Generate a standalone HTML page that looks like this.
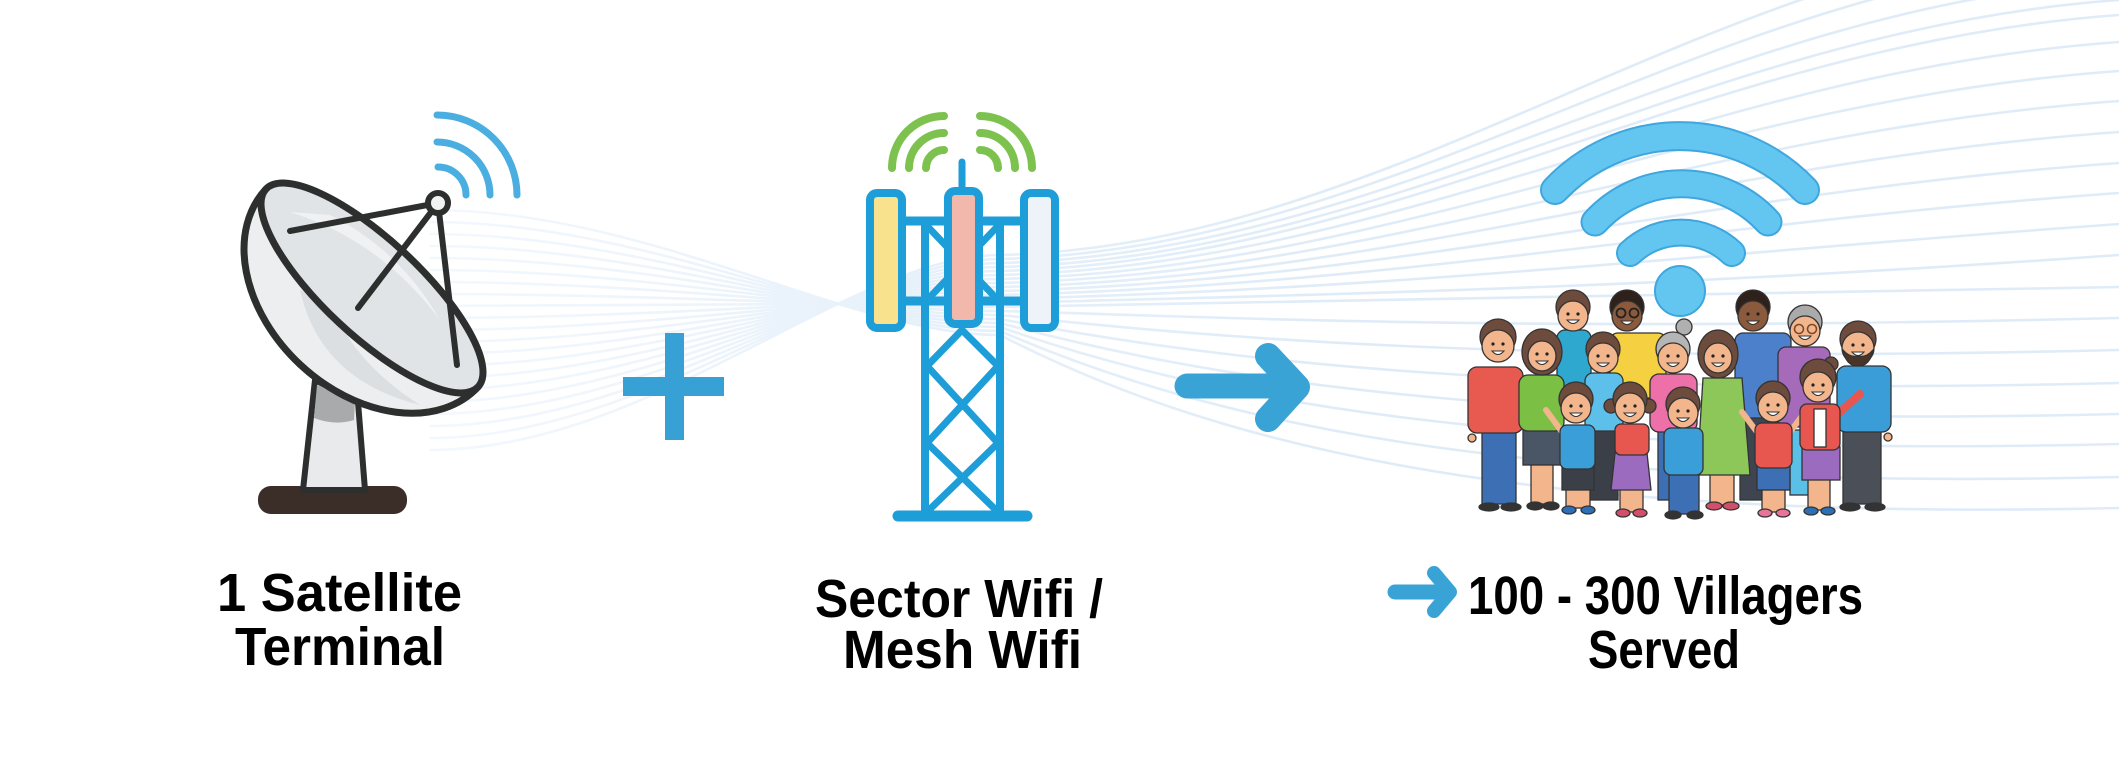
<!DOCTYPE html>
<html><head><meta charset="utf-8"><style>
html,body{margin:0;padding:0;background:#fff;}
svg{display:block;}
text{font-family:"Liberation Sans",Arial,sans-serif;font-weight:bold;fill:#000;}
</style></head><body>
<svg width="2119" height="779" viewBox="0 0 2119 779" xmlns="http://www.w3.org/2000/svg">
<defs>
<linearGradient id="lg" gradientUnits="userSpaceOnUse" x1="430" y1="0" x2="1300" y2="0">
<stop offset="0" stop-color="#f3f8fd"/>
<stop offset="0.6" stop-color="#e6f0fa"/>
<stop offset="1" stop-color="#dfecf8"/>
</linearGradient>
</defs>
<rect width="2119" height="779" fill="#fff"/>
<!-- background flowing lines -->
<g fill="none" stroke="url(#lg)" stroke-width="2.6">
<path d="M430,450 C650,450 850,255 1000,255 C1400,245 1700,-40 2119,-70"/>
<path d="M430,438 C650,438 850,259 1000,259 C1400,249 1700,-15 2119,-45"/>
<path d="M430,426 C650,426 850,263 1000,263 C1400,253 1700,10 2119,-20"/>
<path d="M430,414 C650,414 850,267 1000,267 C1400,257 1700,30 2119,0"/>
<path d="M430,402 C650,402 850,271 1000,271 C1400,261 1700,45 2119,15"/>
<path d="M430,390 C650,390 850,275 1000,275 C1400,265 1700,72 2119,42"/>
<path d="M430,378 C650,378 850,279 1000,279 C1400,269 1700,101 2119,71"/>
<path d="M430,366 C650,366 850,283 1000,283 C1400,273 1700,131 2119,101"/>
<path d="M430,354 C650,354 850,287 1000,287 C1400,277 1700,162 2119,132"/>
<path d="M430,342 C650,342 850,291 1000,291 C1400,281 1700,193 2119,163"/>
<path d="M430,330 C650,330 850,295 1000,295 C1400,285 1700,223 2119,193"/>
<path d="M430,318 C650,318 850,299 1000,299 C1400,289 1700,254 2119,224"/>
<path d="M430,306 C650,306 850,303 1000,303 C1400,293 1700,285 2119,255"/>
<path d="M430,294 C650,294 850,307 1000,307 C1400,297 1700,297 2119,287"/>
<path d="M430,282 C650,282 850,311 1000,311 C1200,316 1500,333 2119,318"/>
<path d="M430,270 C650,270 850,315 1000,315 C1200,336 1500,365 2119,350"/>
<path d="M430,258 C650,258 850,319 1000,319 C1200,357 1500,398 2119,383"/>
<path d="M430,246 C650,246 850,323 1000,323 C1200,377 1500,429 2119,414"/>
<path d="M430,234 C650,234 850,327 1000,327 C1200,397 1500,459 2119,444"/>
<path d="M430,222 C650,222 850,331 1000,331 C1200,418 1500,492 2119,477"/>
<path d="M430,210 C650,210 850,335 1000,335 C1200,438 1500,523 2119,508"/>
</g>

<!-- Satellite dish -->
<g stroke="#2d2f2f" stroke-linecap="round" stroke-linejoin="round">
  <rect x="258" y="486" width="149" height="28" rx="13" fill="#3b2e29" stroke="none"/>
  <path d="M315,380 L303,490 L365,490 L358,402 Z" fill="#e9eaeb" stroke-width="6"/>
  <path d="M317,385 L355,400 L354,420 Q335,426 314,418 Z" fill="#a9aaac" stroke="none"/>
  <path d="M266,189 A145 105 43 0 0 478 387" fill="#eceef0" stroke-width="7"/>
  <path d="M300,290 Q320,380 420,405 Q350,360 330,300 Z" fill="#dcdfe2" stroke="none"/>
  <ellipse cx="372" cy="288" rx="145" ry="48" transform="rotate(43 372 288)" fill="#e1e4e7" stroke-width="7"/>
  <path d="M290,212 Q380,240 440,320 Q400,250 330,215 Z" fill="#f0f1f2" stroke="none"/>
  <line x1="438" y1="203" x2="290" y2="231" stroke-width="6"/>
  <line x1="438" y1="203" x2="358" y2="308" stroke-width="6"/>
  <line x1="438" y1="203" x2="457" y2="365" stroke-width="6"/>
  <circle cx="438" cy="203" r="10" fill="#f2f2f2" stroke-width="6"/>
</g>
<g fill="none" stroke="#4aaee0" stroke-width="7" stroke-linecap="round">
  <path d="M437,115 A80 80 0 0 1 517,195"/>
  <path d="M437,142 A53 53 0 0 1 490,195"/>
  <path d="M438,167 A28 28 0 0 1 466,195"/>
</g>

<!-- Plus -->
<rect x="665" y="333" width="19" height="107" fill="#37a1d6"/>
<rect x="623" y="377" width="101" height="19" fill="#37a1d6"/>

<!-- Tower -->
<g stroke="#1e9ed8" stroke-linecap="round" fill="none">
  <line x1="962" y1="162" x2="962" y2="192" stroke-width="7"/>
  <line x1="929" y1="228" x2="996" y2="298" stroke-width="7"/>
  <line x1="996" y1="228" x2="929" y2="298" stroke-width="7"/>
  <line x1="925" y1="221" x2="925" y2="514" stroke-width="8"/>
  <line x1="1000" y1="221" x2="1000" y2="514" stroke-width="8"/>
  <line x1="906" y1="221" x2="1020" y2="221" stroke-width="9"/>
  <line x1="906" y1="301" x2="1020" y2="301" stroke-width="9"/>
  <line x1="962" y1="330" x2="927" y2="366" stroke-width="7"/>
  <line x1="962" y1="330" x2="998" y2="366" stroke-width="7"/>
  <line x1="927" y1="366" x2="998" y2="443" stroke-width="7"/>
  <line x1="998" y1="366" x2="927" y2="443" stroke-width="7"/>
  <line x1="927" y1="443" x2="998" y2="512" stroke-width="7"/>
  <line x1="998" y1="443" x2="927" y2="512" stroke-width="7"/>
  <line x1="898" y1="516" x2="1027" y2="516" stroke-width="11"/>
  <rect x="870" y="193" width="32" height="135" rx="7" fill="#f8e28e" stroke-width="8"/>
  <rect x="948" y="191" width="31" height="133" rx="7" fill="#f2b8ab" stroke-width="8"/>
  <rect x="1024" y="193" width="31" height="135" rx="7" fill="#eef3f9" stroke-width="8"/>
</g>
<g fill="none" stroke="#7dc24f" stroke-width="8" stroke-linecap="round">
  <path d="M944,116 A52 52 0 0 0 892,168"/>
  <path d="M944,133 A35 35 0 0 0 909,168"/>
  <path d="M944,150 A18 18 0 0 0 926,168"/>
  <path d="M980,116 A52 52 0 0 1 1032,168"/>
  <path d="M980,133 A35 35 0 0 1 1015,168"/>
  <path d="M980,150 A18 18 0 0 1 998,168"/>
</g>

<!-- Big arrow -->
<g fill="none" stroke="#39a3d6" stroke-linecap="round" stroke-linejoin="round">
  <line x1="1187" y1="386" x2="1292" y2="386" stroke-width="25"/>
  <path d="M1268,356 L1297,387 L1268,419" stroke-width="26"/>
</g>

<!-- WiFi symbol -->
<g fill="none" stroke-linecap="round">
  <path d="M1555,190 A172 172 0 0 1 1805,190" stroke="#3fa6de" stroke-width="30"/>
  <path d="M1595,222 A117 117 0 0 1 1768,222" stroke="#3fa6de" stroke-width="29"/>
  <path d="M1630,253 A74 74 0 0 1 1732,253" stroke="#3fa6de" stroke-width="28"/>
  <path d="M1555,190 A172 172 0 0 1 1805,190" stroke="#63c6f1" stroke-width="26"/>
  <path d="M1595,222 A117 117 0 0 1 1768,222" stroke="#63c6f1" stroke-width="25"/>
  <path d="M1630,253 A74 74 0 0 1 1732,253" stroke="#63c6f1" stroke-width="24"/>
</g>
<circle cx="1680" cy="291" r="25" fill="#63c6f1" stroke="#3fa6de" stroke-width="2"/>

<!-- People -->
<g stroke="#333" stroke-width="1.3">
  <!-- back row -->
  <rect x="1557" y="330" width="34" height="60" rx="8" fill="#2fa8cf"/>
  <circle cx="1573" cy="307" r="17" fill="#6d4c3d"/>
  <ellipse cx="1573" cy="316" rx="15" ry="15" fill="#f3b58c"/>

  <rect x="1610" y="333" width="56" height="65" rx="8" fill="#f5d142"/>
  <circle cx="1627" cy="307" r="17" fill="#2e211c"/>
  <ellipse cx="1627" cy="316" rx="15" ry="15" fill="#8b5a3c"/>
  <circle cx="1621" cy="313" r="4.5" fill="none" stroke="#222" stroke-width="1.8"/>
  <circle cx="1634" cy="313" r="4.5" fill="none" stroke="#222" stroke-width="1.8"/>

  <rect x="1740" y="415" width="40" height="85" fill="#3f4550"/>
  <rect x="1735" y="333" width="56" height="85" rx="8" fill="#4d80ca"/>
  <circle cx="1753" cy="307" r="17" fill="#2e211c"/>
  <ellipse cx="1753" cy="316" rx="15" ry="15" fill="#8b5a3c"/>

  <rect x="1790" y="430" width="22" height="65" fill="#5bc0e8"/>
  <rect x="1778" y="347" width="52" height="80" rx="8" fill="#a56ab9"/>
  <circle cx="1805" cy="322" r="17" fill="#aaaaaa"/>
  <ellipse cx="1805" cy="331" rx="15" ry="15" fill="#f3b58c"/>
  <circle cx="1799" cy="329" r="4.5" fill="none" stroke="#7a4a2a" stroke-width="1.6"/>
  <circle cx="1812" cy="329" r="4.5" fill="none" stroke="#7a4a2a" stroke-width="1.6"/>

  <!-- middle row -->
  <rect x="1482" y="428" width="34" height="76" fill="#3d6fb4"/>
  <ellipse cx="1489" cy="507" rx="10" ry="4" fill="#333"/>
  <ellipse cx="1511" cy="507" rx="10" ry="4" fill="#333"/>
  <rect x="1468" y="367" width="55" height="66" rx="9" fill="#e85a50"/>
  <circle cx="1472" cy="438" r="4" fill="#f3b58c"/>
  <circle cx="1498" cy="337" r="18" fill="#6d4c3d"/>
  <ellipse cx="1498" cy="346" rx="16" ry="16" fill="#f3b58c"/>

  <rect x="1531" y="462" width="22" height="42" fill="#f3b58c"/>
  <ellipse cx="1535" cy="506" rx="8" ry="4" fill="#333"/>
  <ellipse cx="1551" cy="506" rx="8" ry="4" fill="#333"/>
  <rect x="1523" y="428" width="40" height="37" fill="#4a5566"/>
  <rect x="1519" y="375" width="45" height="56" rx="9" fill="#7bbf44"/>
  <ellipse cx="1542" cy="352" rx="20" ry="23" fill="#6d4c3d"/>
  <ellipse cx="1542" cy="356" rx="14" ry="15" fill="#f3b58c"/>

  <rect x="1590" y="425" width="28" height="75" fill="#3a3f48"/>
  <rect x="1585" y="373" width="38" height="58" rx="8" fill="#5cc0ea"/>
  <circle cx="1603" cy="349" r="17" fill="#6d4c3d"/>
  <ellipse cx="1603" cy="358" rx="15" ry="15" fill="#f3b58c"/>

  <rect x="1658" y="425" width="32" height="75" fill="#3d6fb4"/>
  <rect x="1650" y="374" width="47" height="58" rx="9" fill="#ee70a8"/>
  <circle cx="1684" cy="327" r="8" fill="#b0b0b0"/>
  <circle cx="1673" cy="349" r="17" fill="#b5b5b5"/>
  <ellipse cx="1673" cy="358" rx="15" ry="15" fill="#f3b58c"/>

  <rect x="1710" y="470" width="24" height="35" fill="#f3b58c"/>
  <ellipse cx="1714" cy="506" rx="8" ry="4" fill="#d24f6c"/>
  <ellipse cx="1731" cy="506" rx="8" ry="4" fill="#d24f6c"/>
  <path d="M1703,378 L1742,378 L1750,475 L1697,475 Z" fill="#8dc659"/>
  <ellipse cx="1718" cy="354" rx="20" ry="24" fill="#6d4c3d"/>
  <ellipse cx="1718" cy="358" rx="14" ry="15" fill="#f3b58c"/>

  <rect x="1843" y="428" width="38" height="76" fill="#4a4f58"/>
  <ellipse cx="1850" cy="507" rx="10" ry="4" fill="#333"/>
  <ellipse cx="1875" cy="507" rx="10" ry="4" fill="#333"/>
  <rect x="1837" y="366" width="54" height="66" rx="9" fill="#3b9dd8"/>
  <circle cx="1888" cy="437" r="4" fill="#f3b58c"/>
  <circle cx="1858" cy="339" r="18" fill="#6d4c3d"/>
  <ellipse cx="1858" cy="348" rx="16" ry="16" fill="#f3b58c"/>
  <path d="M1843,350 Q1846,366 1858,366 Q1870,366 1873,350 Q1866,358 1858,356 Q1850,358 1843,350 Z" fill="#4a3328"/>

  <!-- children -->
  <rect x="1566" y="488" width="24" height="20" fill="#f3b58c"/>
  <ellipse cx="1569" cy="510" rx="7" ry="4" fill="#2c6fb5"/>
  <ellipse cx="1588" cy="510" rx="7" ry="4" fill="#2c6fb5"/>
  <rect x="1562" y="465" width="32" height="25" fill="#3a3f48"/>
  <line x1="1562" y1="432" x2="1546" y2="410" stroke="#f3b58c" stroke-width="6" stroke-linecap="round"/>
  <rect x="1560" y="425" width="35" height="44" rx="7" fill="#3a9fd8"/>
  <circle cx="1576" cy="399" r="17" fill="#6d4c3d"/>
  <ellipse cx="1576" cy="408" rx="15" ry="15" fill="#f3b58c"/>

  <rect x="1620" y="488" width="23" height="24" fill="#f3b58c"/>
  <ellipse cx="1623" cy="513" rx="7" ry="4" fill="#d24f6c"/>
  <ellipse cx="1640" cy="513" rx="7" ry="4" fill="#d24f6c"/>
  <path d="M1615,453 L1647,453 L1651,490 L1611,490 Z" fill="#9a6bbf"/>
  <rect x="1615" y="424" width="34" height="31" rx="6" fill="#e8574f"/>
  <circle cx="1611" cy="406" r="7" fill="#6d4c3d"/>
  <circle cx="1649" cy="406" r="7" fill="#6d4c3d"/>
  <circle cx="1630" cy="399" r="17" fill="#6d4c3d"/>
  <ellipse cx="1630" cy="408" rx="15" ry="15" fill="#f3b58c"/>

  <rect x="1669" y="472" width="30" height="42" fill="#3d6fb4"/>
  <ellipse cx="1673" cy="515" rx="8" ry="4" fill="#333"/>
  <ellipse cx="1695" cy="515" rx="8" ry="4" fill="#333"/>
  <rect x="1664" y="428" width="39" height="47" rx="7" fill="#3a9fd8"/>
  <circle cx="1683" cy="404" r="17" fill="#6d4c3d"/>
  <ellipse cx="1683" cy="413" rx="15" ry="15" fill="#f3b58c"/>

  <rect x="1762" y="488" width="23" height="24" fill="#f3b58c"/>
  <ellipse cx="1765" cy="513" rx="7" ry="4" fill="#e8749a"/>
  <ellipse cx="1783" cy="513" rx="7" ry="4" fill="#e8749a"/>
  <rect x="1757" y="465" width="33" height="25" fill="#3d6fb4"/>
  <line x1="1757" y1="432" x2="1742" y2="412" stroke="#f3b58c" stroke-width="6" stroke-linecap="round"/>
  <line x1="1790" y1="432" x2="1805" y2="412" stroke="#f3b58c" stroke-width="6" stroke-linecap="round"/>
  <rect x="1755" y="423" width="37" height="45" rx="7" fill="#e8574f"/>
  <circle cx="1773" cy="398" r="17" fill="#6d4c3d"/>
  <ellipse cx="1773" cy="407" rx="15" ry="15" fill="#f3b58c"/>

  <rect x="1808" y="478" width="22" height="32" fill="#f3b58c"/>
  <ellipse cx="1811" cy="511" rx="7" ry="4" fill="#2c6fb5"/>
  <ellipse cx="1828" cy="511" rx="7" ry="4" fill="#2c6fb5"/>
  <rect x="1802" y="447" width="38" height="33" fill="#9a6bbf"/>
  <line x1="1838" y1="414" x2="1860" y2="394" stroke="#e8574f" stroke-width="8" stroke-linecap="round"/>
  <rect x="1800" y="404" width="40" height="46" rx="7" fill="#e8574f"/>
  <rect x="1814" y="409" width="12" height="38" fill="#fff"/>
  <circle cx="1831" cy="364" r="7" fill="#6d4c3d"/>
  <circle cx="1818" cy="377" r="18" fill="#6d4c3d"/>
  <ellipse cx="1818" cy="387" rx="15" ry="15" fill="#f3b58c"/>
</g>
<!-- faces: eyes and smiles -->
<g fill="#222">
  <circle cx="1568" cy="314" r="1.6"/><circle cx="1578" cy="314" r="1.6"/>
  <circle cx="1748" cy="314" r="1.6"/><circle cx="1758" cy="314" r="1.6"/>
  <circle cx="1493" cy="344" r="1.6"/><circle cx="1503" cy="344" r="1.6"/>
  <circle cx="1537" cy="354" r="1.6"/><circle cx="1547" cy="354" r="1.6"/>
  <circle cx="1598" cy="356" r="1.6"/><circle cx="1608" cy="356" r="1.6"/>
  <circle cx="1668" cy="356" r="1.6"/><circle cx="1678" cy="356" r="1.6"/>
  <circle cx="1713" cy="356" r="1.6"/><circle cx="1723" cy="356" r="1.6"/>
  <circle cx="1853" cy="345" r="1.6"/><circle cx="1863" cy="345" r="1.6"/>
  <circle cx="1571" cy="406" r="1.6"/><circle cx="1581" cy="406" r="1.6"/>
  <circle cx="1625" cy="406" r="1.6"/><circle cx="1635" cy="406" r="1.6"/>
  <circle cx="1678" cy="411" r="1.6"/><circle cx="1688" cy="411" r="1.6"/>
  <circle cx="1768" cy="405" r="1.6"/><circle cx="1778" cy="405" r="1.6"/>
  <circle cx="1813" cy="385" r="1.6"/><circle cx="1823" cy="385" r="1.6"/>
</g>
<g fill="#fff" stroke="#333" stroke-width="1">
  <path d="M1567,320 Q1573,327 1579,320 Z"/>
  <path d="M1621,321 Q1627,328 1633,321 Z"/>
  <path d="M1747,321 Q1753,328 1759,321 Z"/>
  <path d="M1799,336 Q1805,343 1811,336 Z"/>
  <path d="M1492,351 Q1498,358 1504,351 Z"/>
  <path d="M1536,361 Q1542,368 1548,361 Z"/>
  <path d="M1597,363 Q1603,370 1609,363 Z"/>
  <path d="M1667,363 Q1673,370 1679,363 Z"/>
  <path d="M1712,363 Q1718,370 1724,363 Z"/>
  <path d="M1852,352 Q1858,359 1864,352 Z"/>
  <path d="M1570,413 Q1576,420 1582,413 Z"/>
  <path d="M1624,413 Q1630,420 1636,413 Z"/>
  <path d="M1677,418 Q1683,425 1689,418 Z"/>
  <path d="M1767,412 Q1773,419 1779,412 Z"/>
  <path d="M1812,392 Q1818,399 1824,392 Z"/>
</g>

<!-- small arrow -->
<g fill="none" stroke="#39a3d6" stroke-linecap="round" stroke-linejoin="round">
  <line x1="1395" y1="592" x2="1444" y2="592" stroke-width="15"/>
  <path d="M1434,573 L1450,592 L1434,611" stroke-width="14"/>
</g>

<!-- Labels -->
<text x="217" y="611" font-size="54" textLength="245" lengthAdjust="spacingAndGlyphs">1 Satellite</text>
<text x="235" y="665" font-size="54" textLength="210" lengthAdjust="spacingAndGlyphs">Terminal</text>
<text x="815" y="617" font-size="54" textLength="288" lengthAdjust="spacingAndGlyphs">Sector Wifi /</text>
<text x="843" y="668" font-size="54" textLength="239" lengthAdjust="spacingAndGlyphs">Mesh Wifi</text>
<text x="1468" y="614" font-size="54" textLength="395" lengthAdjust="spacingAndGlyphs">100 - 300 Villagers</text>
<text x="1588" y="668" font-size="54" textLength="152" lengthAdjust="spacingAndGlyphs">Served</text>
</svg>
</body></html>
